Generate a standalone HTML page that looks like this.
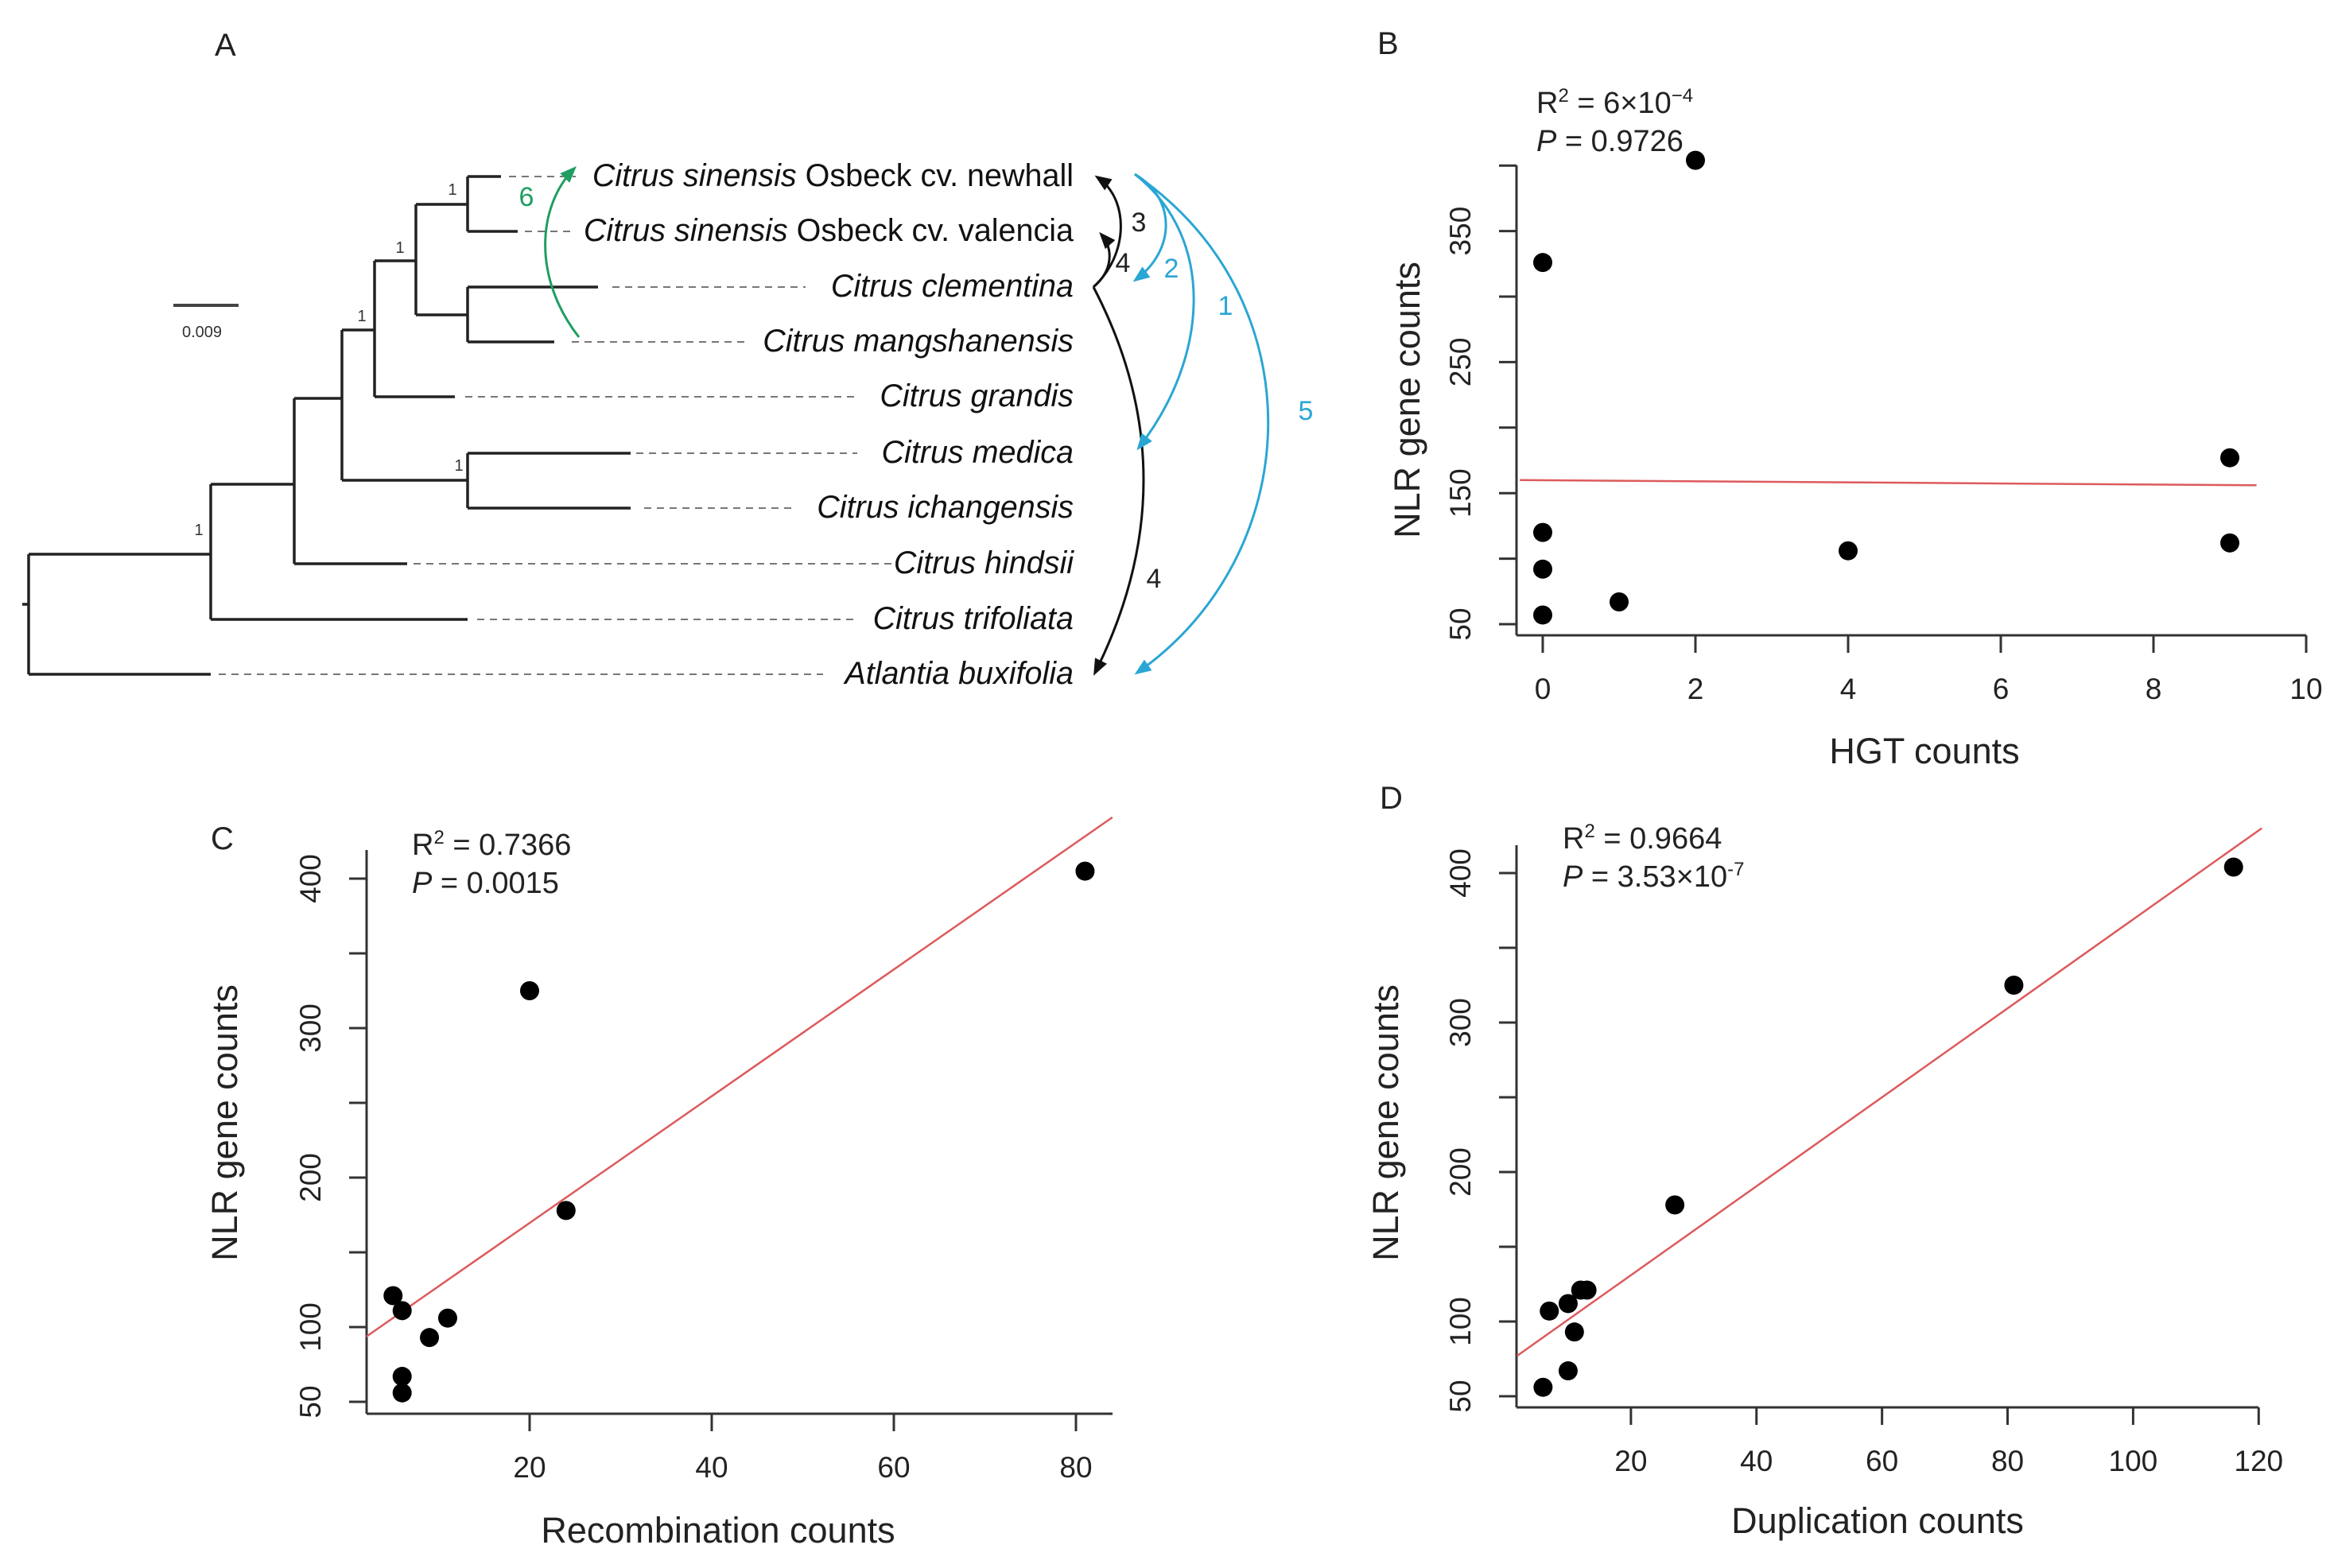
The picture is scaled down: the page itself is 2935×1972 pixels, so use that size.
<!DOCTYPE html>
<html><head><meta charset="utf-8"><style>
html,body{margin:0;padding:0;background:#fff;}
svg{display:block;font-family:"Liberation Sans",Arial,sans-serif;}
</style></head><body>
<svg id="fig" width="2935" height="1972" viewBox="0 0 2935 1972" xmlns="http://www.w3.org/2000/svg">
<defs>
<marker id="ahk" viewBox="0 0 10 10" refX="8" refY="5" markerWidth="7" markerHeight="7" orient="auto-start-reverse"><path d="M0,1 L10,5 L0,9 z" fill="#111"/></marker>
<marker id="ahb" viewBox="0 0 10 10" refX="8" refY="5" markerWidth="7" markerHeight="7" orient="auto-start-reverse"><path d="M0,1 L10,5 L0,9 z" fill="#2aa6d4"/></marker>
<marker id="ahg" viewBox="0 0 10 10" refX="8" refY="5" markerWidth="7" markerHeight="7" orient="auto-start-reverse"><path d="M0,1 L10,5 L0,9 z" fill="#1e9e60"/></marker>
</defs>

<g>
<text x="270" y="70" font-size="40" fill="#222">A</text>
<g stroke="#222" stroke-width="3.5" fill="none">
<path d="M36 697 V848 M36 697 H265 M36 848 H265"/>
<path d="M265 609 V779 M265 779 H588 M265 609 H370"/>
<path d="M370 501 V709 M370 709 H512 M370 501 H430"/>
<path d="M430 415 V604 M430 604 H588 M588 570 V639 M588 570 H793 M588 639 H793"/>
<path d="M430 415 H471 M471 328 V499 M471 499 H572 M471 328 H523"/>
<path d="M523 257 V396 M523 396 H588 M588 361 V430 M588 361 H752 M588 430 H697"/>
<path d="M523 257 H588 M588 222 V291 M588 222 H630 M588 291 H651"/>
<path d="M28 760 H36"/>
</g>
<g stroke="#777" stroke-width="2" stroke-dasharray="9 7" fill="none">
<path d="M640 222 H724"/><path d="M660 291 H724"/><path d="M770 361 H1013"/><path d="M719 430 H937"/>
<path d="M585 499 H1078"/><path d="M800 570 H1078"/><path d="M810 639 H1002"/><path d="M520 709 H1122"/>
<path d="M600 779 H1078"/><path d="M275 848 H1035"/>
</g>
<g font-size="20" fill="#333" text-anchor="middle">
<text x="569" y="245">1</text><text x="503" y="318">1</text><text x="455" y="404">1</text><text x="577" y="592">1</text><text x="250" y="673">1</text>
</g>
<g>
<path d="M218 384 H300" stroke="#444" stroke-width="4"/>
<text x="254" y="424" font-size="20" fill="#333" text-anchor="middle">0.009</text>
</g>
<g font-size="39.5" fill="#111" text-anchor="end">
<text x="1350" y="234"><tspan font-style="italic">Citrus sinensis</tspan> Osbeck cv. newhall</text>
<text x="1350" y="303"><tspan font-style="italic">Citrus sinensis</tspan> Osbeck cv. valencia</text>
<text x="1350" y="373" font-style="italic">Citrus clementina</text>
<text x="1350" y="442" font-style="italic">Citrus mangshanensis</text>
<text x="1350" y="511" font-style="italic">Citrus grandis</text>
<text x="1350" y="582" font-style="italic">Citrus medica</text>
<text x="1350" y="651" font-style="italic">Citrus ichangensis</text>
<text x="1350" y="721" font-style="italic">Citrus hindsii</text>
<text x="1350" y="791" font-style="italic">Citrus trifoliata</text>
<text x="1350" y="860" font-style="italic">Atlantia buxifolia</text>
</g>
<g fill="none" stroke-width="3">
<path d="M1375 361 C1420 320 1420 250 1380 223" stroke="#111" marker-end="url(#ahk)"/>
<path d="M1375 361 C1400 340 1400 312 1385 295" stroke="#111" marker-end="url(#ahk)"/>
<path d="M1375 361 Q1500 600 1377 846" stroke="#111" marker-end="url(#ahk)"/>
<path d="M1427 219 C1480 250 1478 315 1428 352" stroke="#2aa6d4" marker-end="url(#ahb)"/>
<path d="M1427 219 C1530 300 1520 450 1432 563" stroke="#2aa6d4" marker-end="url(#ahb)"/>
<path d="M1427 219 C1660 380 1640 700 1430 846" stroke="#2aa6d4" marker-end="url(#ahb)"/>
<path d="M728 424 C670 350 675 260 722 212" stroke="#1e9e60" marker-end="url(#ahg)"/>
</g>
<g font-size="34" text-anchor="middle">
<text x="1432" y="291" fill="#222">3</text><text x="1412" y="342" fill="#222">4</text>
<text x="1451" y="739" fill="#222">4</text>
<text x="1473" y="349" fill="#2aa6d4">2</text><text x="1541" y="396" fill="#2aa6d4">1</text>
<text x="1642" y="528" fill="#2aa6d4">5</text>
<text x="662" y="259" fill="#1e9e60">6</text>
</g>
</g>

<g id="charts"></g>
</svg>
<script>
// Panel B: HGT vs NLR
const bX = [0, 2, 0, 0, 0, 1, 4, 9, 9];
const bY = [326, 404, 120, 92, 57, 67, 106, 177, 112];
const bFitX = [-0.3, 9.35];
const bFitY = [160, 156];
const bXTicks = [0, 2, 4, 6, 8, 10];
const bYTicks = [50, 100, 150, 200, 250, 300, 350, 400];
const bYLabels = ["50", "", "150", "", "250", "", "350", ""];
// Panel C: Recombination vs NLR
const cX = [20, 81, 24, 5, 6, 11, 9, 6, 6];
const cY = [325, 405, 178, 121, 111, 106, 93, 67, 56];
const cFitX = [2.06, 84];
const cFitY = [93.6, 441];
const cXTicks = [20, 40, 60, 80];
const cYTicks = [50, 100, 150, 200, 250, 300, 350, 400];
const cYLabels = ["50", "100", "", "200", "", "300", "", "400"];
// Panel D: Duplication vs NLR
const dX = [116, 81, 27, 13, 12, 10, 7, 11, 10, 6];
const dY = [404, 325, 178, 121, 121, 112, 107, 93, 67, 56];
const dFitX = [1.85, 120.5];
const dFitY = [77, 430];
const dXTicks = [20, 40, 60, 80, 100, 120];
const dYTicks = [50, 100, 150, 200, 250, 300, 350, 400];
const dYLabels = ["50", "100", "", "200", "", "300", "", "400"];

const NS = "http://www.w3.org/2000/svg";
const root = document.getElementById('charts');
function mk(tag, attrs, parent) {
  const e = document.createElementNS(NS, tag);
  for (const k in attrs) e.setAttribute(k, attrs[k]);
  parent.appendChild(e);
  return e;
}
function panel(p) {
  const g = mk('g', {}, root);
  
  
  const sx = v => p.x0 + v * p.kx;
  const sy = v => p.y50 - (v - 50) * p.ky;
  const lbl = mk('text', {x: p.lx, y: p.ly, 'font-size': 40, fill: '#222'}, g);
  lbl.textContent = p.id.toUpperCase();
  
  
  const ya = mk('line', {x1: p.ax0, x2: p.ax0, y1: p.atop, y2: p.ay, stroke: '#333', 'stroke-width': 3}, g);
  
  
  const xa = mk('line', {x1: p.ax0, x2: p.ax1, y1: p.ay, y2: p.ay, stroke: '#333', 'stroke-width': 3}, g);
  
  
  p.yt.forEach((v, i) => {
    const y = sy(v);
    const t = mk('line', {x1: p.ax0 - 22, x2: p.ax0, y1: y, y2: y, stroke: '#333', 'stroke-width': 3}, g);
    
    
    if (p.yl[i]) {
      const tx = mk('text', {x: 0, y: 0, 'font-size': 37, fill: '#222', 'text-anchor': 'middle',
        transform: 'translate(' + (p.ax0 - 58) + ',' + y + ') rotate(-90)'}, g);
      tx.textContent = p.yl[i];
      
      
    }
  });
  p.xt.forEach(v => {
    const x = sx(v);
    const t = mk('line', {x1: x, x2: x, y1: p.ay, y2: p.ay + 22, stroke: '#333', 'stroke-width': 3}, g);
    
    
    const tx = mk('text', {x: x, y: p.ay + 80, 'font-size': 37, fill: '#222', 'text-anchor': 'middle'}, g);
    tx.textContent = String(v);
    
    
  });
  const fit = mk('line', {x1: sx(p.fx[0]), y1: sy(p.fy[0]), x2: sx(p.fx[1]), y2: sy(p.fy[1]), stroke: '#dd5a5c', 'stroke-width': 2.5}, g);
  
  
  p.xs.forEach((v, i) => {
    const c = mk('circle', {cx: sx(v), cy: sy(p.ys[i]), r: 12, fill: '#000'}, g);
    
    
  });
  const xl = mk('text', {x: p.xlx, y: p.xly, 'font-size': 45, fill: '#222', 'text-anchor': 'middle'}, g);
  xl.textContent = p.xlabel;
  
  
  const yl = mk('text', {x: 0, y: 0, 'font-size': 45, fill: '#222', 'text-anchor': 'middle',
    transform: 'translate(' + p.ylx + ',' + p.yly + ') rotate(-90)'}, g);
  yl.textContent = 'NLR gene counts';
  
  
  const r2 = mk('text', {x: p.rx, y: p.ry, 'font-size': 38, fill: '#222'}, g);
  r2.innerHTML = p.r2;
  
  
  const pv = mk('text', {x: p.rx, y: p.ry + 48, 'font-size': 38, fill: '#222'}, g);
  pv.innerHTML = p.pv;
  
  
}
panel({id: 'b', x0: 1940, kx: 96, y50: 785, ky: 1.648, ax0: 1907, ax1: 2900, atop: 208, ay: 799,
  xs: bX, ys: bY, fx: bFitX, fy: bFitY, xt: bXTicks, yt: bYTicks, yl: bYLabels,
  lx: 1732, ly: 68, xlabel: 'HGT counts', xlx: 2420, xly: 960, ylx: 1785, yly: 503,
  rx: 1932, ry: 142,
  r2: 'R<tspan font-size="24" dy="-14">2</tspan><tspan dy="14"> = 6×10</tspan><tspan font-size="24" dy="-14">−4</tspan>',
  pv: '<tspan font-style="italic">P</tspan> = 0.9726'});
panel({id: 'c', x0: 437, kx: 11.45, y50: 1763, ky: 1.88, ax0: 461, ax1: 1399, atop: 1069, ay: 1778,
  xs: cX, ys: cY, fx: cFitX, fy: cFitY, xt: cXTicks, yt: cYTicks, yl: cYLabels,
  lx: 265, ly: 1068, xlabel: 'Recombination counts', xlx: 903, xly: 1940, ylx: 298, yly: 1412,
  rx: 518, ry: 1075,
  r2: 'R<tspan font-size="24" dy="-14">2</tspan><tspan dy="14"> = 0.7366</tspan>',
  pv: '<tspan font-style="italic">P</tspan> = 0.0015'});
panel({id: 'd', x0: 1893, kx: 7.894, y50: 1756, ky: 1.88, ax0: 1907, ax1: 2840, atop: 1063, ay: 1770,
  xs: dX, ys: dY, fx: dFitX, fy: dFitY, xt: dXTicks, yt: dYTicks, yl: dYLabels,
  lx: 1735, ly: 1017, xlabel: 'Duplication counts', xlx: 2361, xly: 1928, ylx: 1758, yly: 1412,
  rx: 1965, ry: 1067,
  r2: 'R<tspan font-size="24" dy="-14">2</tspan><tspan dy="14"> = 0.9664</tspan>',
  pv: '<tspan font-style="italic">P</tspan> = 3.53×10<tspan font-size="24" dy="-14">-7</tspan>'});
</script>
</body></html>
